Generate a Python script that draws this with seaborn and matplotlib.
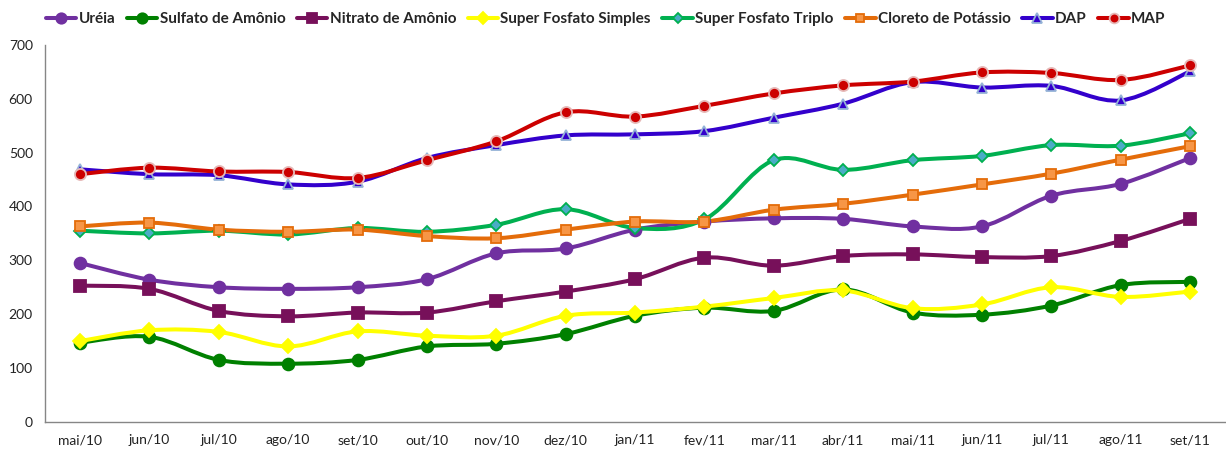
import numpy as np
import pandas as pd
import seaborn as sns
import matplotlib.pyplot as plt
from matplotlib.path import Path
from matplotlib.patches import PathPatch
from matplotlib.lines import Line2D

# months on the x axis
months = ["mai/10", "jun/10", "jul/10", "ago/10", "set/10", "out/10", "nov/10", "dez/10",
          "jan/11", "fev/11", "mar/11", "abr/11", "mai/11", "jun/11", "jul/11", "ago/11", "set/11"]

# price series
ureia = [295, 264, 250, 247, 250, 265, 313, 322, 357, 372, 378, 377, 363, 363, 420, 442, 490]
sulfato = [147, 158, 115, 108, 115, 140, 145, 163, 197, 212, 206, 246, 203, 199, 216, 254, 260]
nitrato = [253, 247, 206, 196, 203, 203, 224, 242, 265, 305, 290, 308, 311, 306, 308, 336, 377]
sfs = [150, 170, 167, 140, 168, 160, 160, 197, 203, 214, 230, 244, 211, 218, 250, 232, 242]
sft = [355, 350, 355, 348, 360, 353, 366, 395, 360, 376, 486, 468, 486, 494, 514, 513, 536]
cloreto = [363, 370, 357, 353, 357, 345, 341, 357, 372, 372, 394, 405, 422, 441, 461, 487, 512]
dap = [469, 460, 458, 441, 446, 490, 514, 532, 534, 540, 565, 591, 631, 621, 624, 597, 651]
map_ = [460, 472, 465, 464, 453, 486, 521, 575, 567, 587, 610, 625, 632, 649, 648, 635, 662]

# name, values, line colour, marker, marker face, marker edge, marker size
series = [
    ("Uréia", ureia, "#7030A0", "o", "#7030A0", "#7030A0", 8.5),
    ("Sulfato de Amônio", sulfato, "#008000", "o", "#008000", "#008000", 8.5),
    ("Nitrato de Amônio", nitrato, "#77105A", "s", "#77105A", "#77105A", 8.5),
    ("Super Fosfato Simples", sfs, "#FFFF00", "D", "#FFFF00", "#FFFF00", 7),
    ("Super Fosfato Triplo", sft, "#00B050", "D", "#4BACC6", "#00B050", 6.5),
    ("Cloreto de Potássio", cloreto, "#E46C0A", "s", "#F79646", "#E46C0A", 6.5),
    ("DAP", dap, "#3300CC", "^", "#3300CC", "#95B3D7", 7.5),
    ("MAP", map_, "#CC0000", "o", "#CC0000", "#E6B9B8", 8),
]

sns.set_style("white")
plt.rcParams['font.family'] = ['Lato', 'DejaVu Sans']

fig, ax = plt.subplots(figsize=(12.26, 4.59), dpi=100)
fig.subplots_adjust(left=0.037, right=0.999, bottom=0.081, top=0.902)

x = np.arange(len(months))


def smooth_path(xs, ys):
    # Excel-style smoothed line: cubic bezier through every point
    pts = np.column_stack([xs, ys]).astype(float)
    verts = [pts[0]]
    codes = [Path.MOVETO]
    n = len(pts)
    for i in range(n - 1):
        p0 = pts[i - 1] if i > 0 else pts[i]
        p1 = pts[i]
        p2 = pts[i + 1]
        p3 = pts[i + 2] if i + 2 < n else pts[i + 1]
        c1 = p1 + (p2 - p0) / 6.0
        c2 = p2 - (p3 - p1) / 6.0
        verts += [c1, c2, p2]
        codes += [Path.CURVE4] * 3
    return Path(verts, codes)


handles = []
for name, vals, color, mk, face, edge, ms in series:
    ax.add_patch(PathPatch(smooth_path(x, vals), facecolor="none", edgecolor=color,
                           lw=2.9, capstyle="round", joinstyle="round", zorder=2))
    df = pd.DataFrame({"x": x, "y": vals})
    sns.lineplot(data=df, x="x", y="y", ax=ax, linestyle="", marker=mk, markersize=ms,
                 markerfacecolor=face, markeredgecolor=edge, markeredgewidth=1.3, zorder=3)
    handles.append(Line2D([], [], color=color, lw=2.9, marker=mk, markersize=ms - 1,
                          markerfacecolor=face, markeredgecolor=edge, markeredgewidth=1.3))

ax.set_xlim(-0.5, len(months) - 0.5)
ax.set_ylim(0, 700)
ax.set_yticks(range(0, 701, 100))
ax.set_xticks(x)
ax.set_xticklabels(months)
ax.set_xticks(np.arange(-0.5, len(months), 1), minor=True)
ax.tick_params(axis="x", which="major", length=0, pad=9, labelsize=10, labelcolor="#222222")
ax.tick_params(axis="x", which="minor", length=5, width=1, color="#868686", direction="out")
ax.tick_params(axis="y", length=5, width=1, color="#868686", direction="out",
               labelsize=10, labelcolor="#222222", pad=4)
ax.set_xlabel("")
ax.set_ylabel("")
for side in ["top", "right"]:
    ax.spines[side].set_visible(False)
for side in ["left", "bottom"]:
    ax.spines[side].set_color("#868686")
    ax.spines[side].set_linewidth(1)

fig.legend(handles, [s[0] for s in series], loc="upper left", bbox_to_anchor=(0.026, 1.004),
           ncol=8, frameon=False, handlelength=2.0, handletextpad=0.15, columnspacing=0.75,
           prop={"weight": "bold", "size": 11})

fig.savefig("out.png", dpi=100)
